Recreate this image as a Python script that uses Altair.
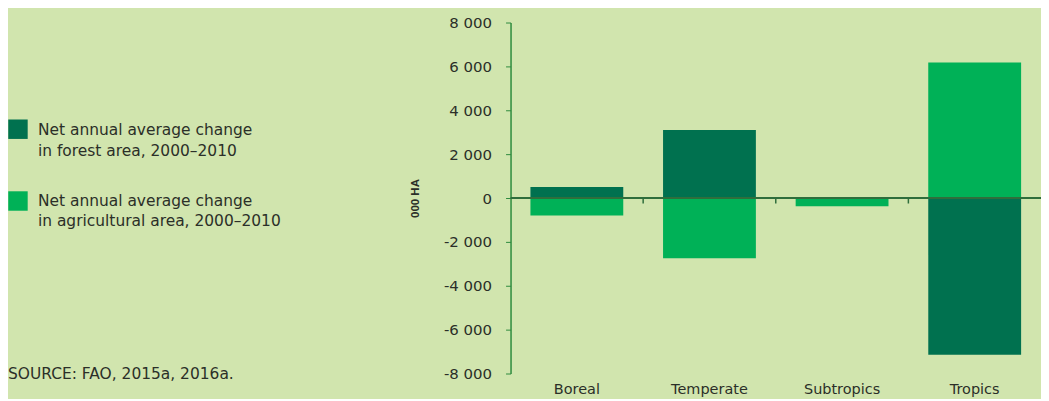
import altair as alt
import pandas as pd

categories = ["Boreal", "Temperate", "Subtropics", "Tropics"]
forest_change = [500, 3100, 0, -7150]
agri_change = [-800, -2750, -380, 6180]
series_labels = ["forest", "agri"]
y_ticks = [-8000, -6000, -4000, -2000, 0, 2000, 4000, 6000, 8000]
legend_lines = [
    ["Net annual average change", "in forest area, 2000\u20132010"],
    ["Net annual average change", "in agricultural area, 2000\u20132010"],
]
source_text = "SOURCE: FAO, 2015a, 2016a."

DARK = "#00714f"
LIGHT = "#00b157"
BG = "#d1e5ae"
AXIS = "#2e8b3e"
TEXT = "#2b2f28"
FONT = "DejaVu Sans"

W = 532
H = 352
STEP = W / 4

rows = []
for c, f, a in zip(categories, forest_change, agri_change):
    rows.append({"cat": c, "series": "forest", "value": f})
    rows.append({"cat": c, "series": "agri", "value": a})
df = pd.DataFrame(rows)

xscale = alt.Scale(domain=categories, paddingInner=0.3, paddingOuter=0.15)
yscale = alt.Scale(domain=[-8000, 8000], nice=False)
cscale = alt.Scale(domain=series_labels, range=[DARK, LIGHT])

bars = alt.Chart(df).mark_bar().encode(
    x=alt.X("cat:N", scale=xscale, sort=categories,
            axis=alt.Axis(title=None, labelAngle=0, domain=False, ticks=False,
                          labelPadding=9, labelFontSize=14.5, labelColor=TEXT,
                          labelFont=FONT)),
    y=alt.Y("value:Q", scale=yscale, stack=None,
            axis=alt.Axis(title="000 HA", values=y_ticks, grid=False,
                          domainColor=AXIS, domainWidth=1.5, tickColor=AXIS,
                          tickSize=5, labelPadding=14, labelFontSize=15,
                          labelColor=TEXT, labelFont=FONT,
                          labelExpr="replace(replace(format(datum.value, ','), ',', ' '), '\u2212', '-')",
                          titleFont="Liberation Sans", titleFontSize=11.5,
                          titleFontWeight="bold", titleColor=TEXT, titlePadding=23)),
    color=alt.Color("series:N", scale=cscale, legend=None),
)

zero_df = pd.DataFrame({"v": [0]})
zero = alt.Chart(zero_df).mark_rule(color="#2f6e3c", strokeWidth=2).encode(
    y=alt.Y("v:Q", scale=yscale),
    x=alt.value(0),
    x2=alt.value(560),
)

tick_df = pd.DataFrame({"cat": categories[1:], "y0": [0, 0, 0], "y1": [-250, -250, -250]})
ticks = alt.Chart(tick_df).mark_rule(color="#2f6e3c", strokeWidth=1.5,
                                     xOffset=-0.15 * STEP).encode(
    x=alt.X("cat:N", scale=xscale, sort=categories, bandPosition=0),
    y=alt.Y("y0:Q", scale=yscale),
    y2="y1:Q",
)

leg_df = pd.DataFrame({
    "series": series_labels,
    "ypix": [107, 179],
})
leg_sq = alt.Chart(leg_df).mark_square(size=380, opacity=1).encode(
    x=alt.value(-494),
    y=alt.Y("ypix:Q", scale=None),
    color=alt.Color("series:N", scale=cscale, legend=None),
)

txt_rows = []
ys = [[108, 129], [179, 199]]
for lines, yy in zip(legend_lines, ys):
    for t, y in zip(lines, yy):
        txt_rows.append({"t": t, "ypix": y, "xpix": -474})
txt_rows.append({"t": source_text, "ypix": 353, "xpix": -504})
txt_df = pd.DataFrame(txt_rows)
leg_txt = alt.Chart(txt_df).mark_text(align="left", baseline="middle", fontSize=15.5,
                                      font=FONT, color=TEXT).encode(
    x=alt.X("xpix:Q", scale=None),
    y=alt.Y("ypix:Q", scale=None),
    text="t:N",
)

chart = alt.layer(bars, zero, ticks, leg_sq, leg_txt).resolve_scale(color="shared").properties(
    width=W, height=H,
    autosize=alt.AutoSizeParams(type="none"),
    padding={"left": 504, "top": 14, "right": 0, "bottom": 25},
    background=BG,
).configure_view(stroke=None)

chart.save("out.html", embed_options={"renderer": "svg", "actions": False})
